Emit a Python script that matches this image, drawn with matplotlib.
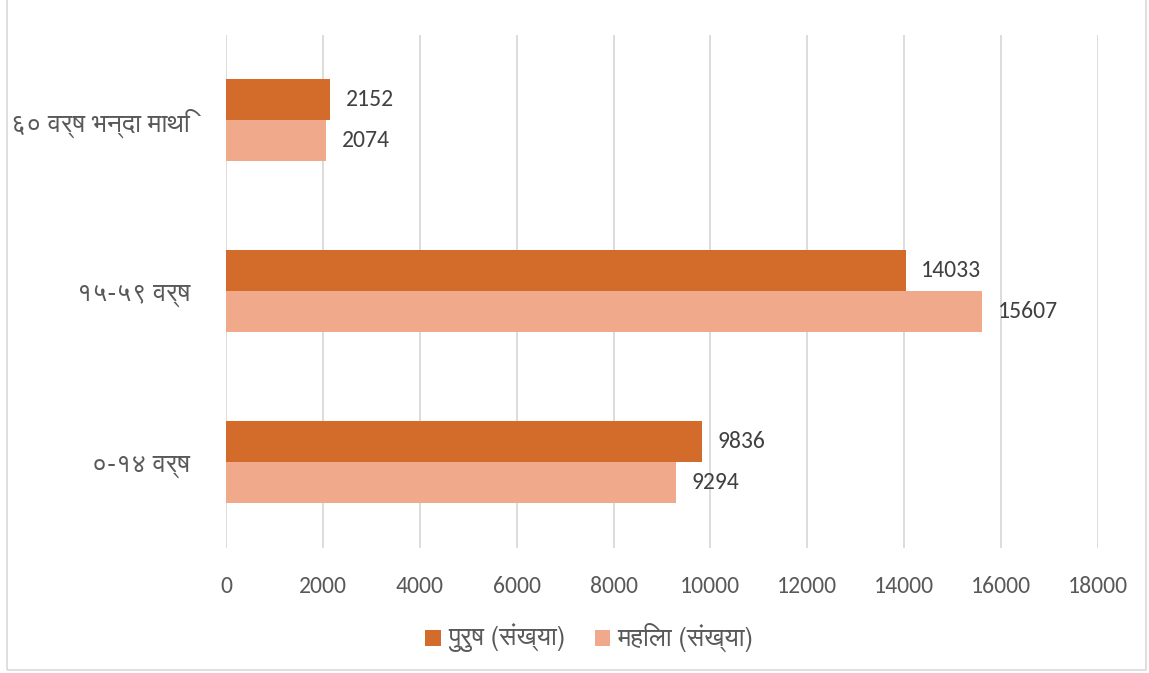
import matplotlib
matplotlib.use('Agg')
import matplotlib.pyplot as plt
from matplotlib.patches import Rectangle

# age groups, bottom to top
categories = ['०-१४ वर्ष', '१५-५९ वर्ष', '६० वर्ष भन्दा माथि']
male = [9836, 14033, 2152]
female = [9294, 15607, 2074]
series_names = ['पुरुष (संख्या)', 'महिला (संख्या)']
xticks = [0, 2000, 4000, 6000, 8000, 10000, 12000, 14000, 16000, 18000]

DARK = '#D36C2A'
LIGHT = '#F1A98B'
TEXT = '#595959'
NUM_FONT = ['Carlito', 'Lato', 'DejaVu Sans']

plt.rcParams['font.family'] = ['FreeSans', 'DejaVu Sans']

fig = plt.figure(figsize=(11.49, 6.73), dpi=100)
ax = fig.add_axes([0.1967, 0.186, 0.7589, 0.762])

h = 0.24
ys = range(len(categories))
ax.barh([y + h / 2 for y in ys], male, height=h, color=DARK, label=series_names[0], zorder=3)
ax.barh([y - h / 2 for y in ys], female, height=h, color=LIGHT, label=series_names[1], zorder=3)

for y, m, f in zip(ys, male, female):
    ax.text(m + 320, y + h / 2, str(m), va='center', ha='left', fontsize=17,
            color='#404040', family=NUM_FONT)
    ax.text(f + 320, y - h / 2, str(f), va='center', ha='left', fontsize=17,
            color='#404040', family=NUM_FONT)

ax.set_xlim(0, 18000)
ax.set_ylim(-0.5, 2.5)
ax.set_xticks(xticks)
ax.set_xticklabels([str(t) for t in xticks], family=NUM_FONT)
ax.set_yticks(list(ys))
ax.set_yticklabels(categories)
ax.tick_params(axis='x', labelsize=17, colors=TEXT, length=0, pad=20)
ax.tick_params(axis='y', labelsize=16, colors=TEXT, length=0, pad=26)
ax.grid(axis='x', color='#D9D9D9', linewidth=1.3, zorder=0)
for s in ax.spines.values():
    s.set_visible(False)

leg = fig.legend(loc='center', bbox_to_anchor=(0.513, 0.053), ncol=2, frameon=False,
                 fontsize=15, handlelength=0.75, handleheight=0.75, columnspacing=1.4,
                 handletextpad=0.35, labelcolor=TEXT)

# scale the Devanagari texts to the widths seen in the chart
renderer = fig.canvas.get_renderer()
ylabels = ax.get_yticklabels()
w = ylabels[2].get_window_extent(renderer).width
for t in ylabels:
    t.set_fontsize(16 * 178.0 / w)
lt = leg.get_texts()
w = lt[1].get_window_extent(renderer).width
for t in lt:
    t.set_fontsize(15 * 136.0 / w)

# thin outer border like the spreadsheet chart frame
fig.patches.append(Rectangle((0.006, 0.005), 0.991, 1.2, transform=fig.transFigure,
                             fill=False, edgecolor='#D9D9D9', linewidth=1.2))

fig.savefig('out.png', dpi=100)
